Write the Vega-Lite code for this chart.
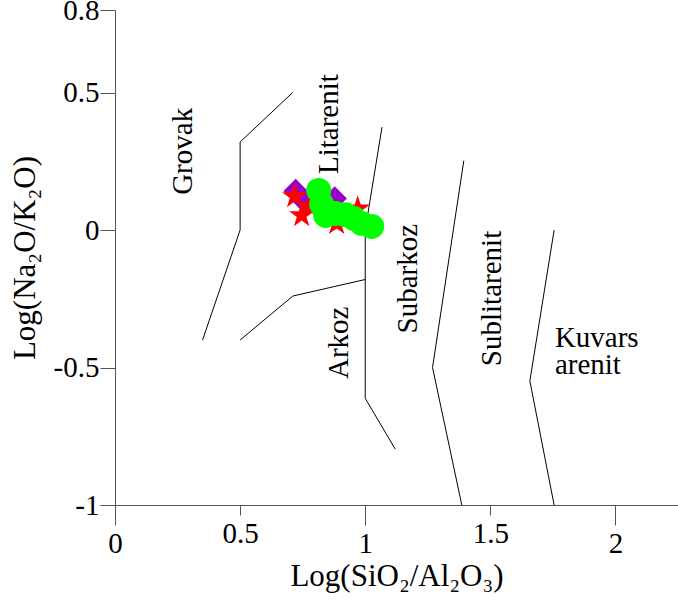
{
  "$schema": "https://vega.github.io/schema/vega-lite/v6.json",
  "width": 563,
  "height": 495,
  "autosize": {"type": "none"},
  "padding": {"left": 115, "top": 10, "right": 0, "bottom": 98},
  "background": "white",
  "config": {
    "view": {"stroke": null},
    "axis": {
      "labelFont": "Liberation Serif",
      "titleFont": "Liberation Serif",
      "labelFontSize": 29,
      "titleFontSize": 31,
      "labelColor": "black",
      "titleColor": "black",
      "titleFontWeight": "normal",
      "domainColor": "#555",
      "tickColor": "#555",
      "grid": false
    }
  },
  "data": {
    "values": [
      {"g": "line", "seg": "a", "ord": 1, "x": 0.35, "y": -0.4},
      {"g": "line", "seg": "a", "ord": 2, "x": 0.5, "y": 0.0},
      {"g": "line", "seg": "a", "ord": 3, "x": 0.5, "y": 0.32},
      {"g": "line", "seg": "a", "ord": 4, "x": 0.71, "y": 0.5},
      {"g": "line", "seg": "b", "ord": 1, "x": 0.5, "y": -0.4},
      {"g": "line", "seg": "b", "ord": 2, "x": 0.711, "y": -0.24},
      {"g": "line", "seg": "b", "ord": 3, "x": 1.0, "y": -0.18},
      {"g": "line", "seg": "c", "ord": 1, "x": 1.067, "y": 0.374},
      {"g": "line", "seg": "c", "ord": 2, "x": 1.0, "y": 0.0},
      {"g": "line", "seg": "c", "ord": 3, "x": 1.0, "y": -0.612},
      {"g": "line", "seg": "c", "ord": 4, "x": 1.12, "y": -0.797},
      {"g": "line", "seg": "d", "ord": 1, "x": 1.394, "y": 0.252},
      {"g": "line", "seg": "d", "ord": 2, "x": 1.269, "y": -0.5},
      {"g": "line", "seg": "d", "ord": 3, "x": 1.386, "y": -1.0},
      {"g": "line", "seg": "e", "ord": 1, "x": 1.755, "y": 0.0},
      {"g": "line", "seg": "e", "ord": 2, "x": 1.658, "y": -0.549},
      {"g": "line", "seg": "e", "ord": 3, "x": 1.755, "y": -1.0},
      {"g": "vlabel", "t": "Grovak", "x": 0.27, "y": 0.286},
      {"g": "vlabel", "t": "Litarenit", "x": 0.855, "y": 0.385},
      {"g": "vlabel", "t": "Subarkoz", "x": 1.17, "y": -0.177},
      {"g": "vlabel", "t": "Arkoz", "x": 0.894, "y": -0.41},
      {"g": "vlabel", "t": "Sublitarenit", "x": 1.506, "y": -0.249},
      {"g": "hlabel", "t": "Kuvars", "x": 1.758, "y": -0.391},
      {"g": "hlabel", "t": "arenit", "x": 1.758, "y": -0.49},
      {"g": "diamond", "x": 0.722, "y": 0.142},
      {"g": "diamond", "x": 0.75, "y": 0.111},
      {"g": "diamond", "x": 0.798, "y": 0.104},
      {"g": "diamond", "x": 0.878, "y": 0.115},
      {"g": "star", "x": 0.718, "y": 0.122},
      {"g": "star", "x": 0.746, "y": 0.053},
      {"g": "star", "x": 0.778, "y": 0.086},
      {"g": "star", "x": 0.886, "y": 0.024},
      {"g": "star", "x": 0.97, "y": 0.078},
      {"g": "circle", "x": 0.814, "y": 0.144},
      {"g": "circle", "x": 0.826, "y": 0.093},
      {"g": "circle", "x": 0.842, "y": 0.053},
      {"g": "circle", "x": 0.882, "y": 0.06},
      {"g": "circle", "x": 0.922, "y": 0.056},
      {"g": "circle", "x": 0.954, "y": 0.042},
      {"g": "circle", "x": 0.986, "y": 0.024},
      {"g": "circle", "x": 1.026, "y": 0.013}
    ]
  },
  "encoding": {
    "x": {
      "field": "x", "type": "quantitative",
      "scale": {"domain": [0, 2.25], "nice": false, "zero": false},
      "axis": {
        "values": [0, 0.5, 1, 1.5, 2],
        "tickSize": {"condition": {"test": "datum.value % 1 === 0", "value": 20}, "value": 10},
        "labelPadding": 4,
        "title": "Log(SiO₂/Al₂O₃)", "titlePadding": 3,
        "labelFlush": false, "labelOverlap": false, "format": "~g"
      }
    },
    "y": {
      "field": "y", "type": "quantitative",
      "scale": {"domain": [-1, 0.8], "nice": false, "zero": false},
      "axis": {
        "values": [0.8, 0.5, 0, -0.5, -1], "tickSize": 15, "labelPadding": 1,
        "title": "Log(Na₂O/K₂O)", "titlePadding": 12,
        "labelFlush": false, "labelOverlap": false,
        "labelExpr": "replace(format(datum.value, '~g'), '−', '-')"
      }
    }
  },
  "layer": [
    {
      "transform": [{"filter": "datum.g === 'line'"}],
      "mark": {"type": "line", "color": "black", "strokeWidth": 1},
      "encoding": {
        "detail": {"field": "seg"},
        "order": {"field": "ord"}
      }
    },
    {
      "transform": [{"filter": "datum.g === 'diamond'"}],
      "mark": {"type": "point", "shape": "diamond", "filled": true, "color": "#9900CC", "opacity": 1, "size": 600, "strokeWidth": 0}
    },
    {
      "transform": [{"filter": "datum.g === 'star'"}],
      "mark": {"type": "point", "shape": "M0,-1L0.2245,-0.309L0.951,-0.309L0.3633,0.118L0.588,0.809L0,0.382L-0.588,0.809L-0.3633,0.118L-0.951,-0.309L-0.2245,-0.309Z", "filled": true, "color": "#FF0000", "opacity": 1, "size": 700, "strokeWidth": 0}
    },
    {
      "transform": [{"filter": "datum.g === 'circle'"}],
      "mark": {"type": "point", "shape": "circle", "filled": true, "color": "#00FF00", "opacity": 1, "size": 620, "strokeWidth": 0}
    },
    {
      "transform": [{"filter": "datum.g === 'vlabel'"}],
      "mark": {"type": "text", "font": "Liberation Serif", "fontSize": 29, "color": "black", "align": "center", "baseline": "middle", "angle": 270},
      "encoding": {"text": {"field": "t"}}
    },
    {
      "transform": [{"filter": "datum.g === 'hlabel'"}],
      "mark": {"type": "text", "font": "Liberation Serif", "fontSize": 29, "color": "black", "align": "left", "baseline": "middle"},
      "encoding": {"text": {"field": "t"}}
    }
  ]
}
